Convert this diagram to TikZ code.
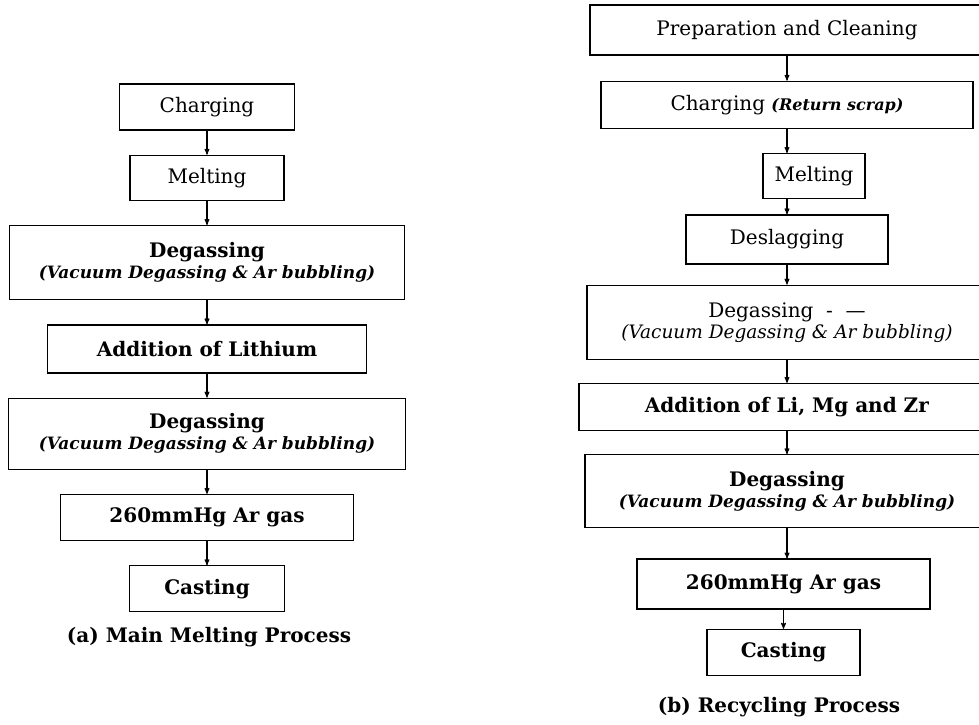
\documentclass[tikz,border=0pt]{standalone}
\usepackage{fontspec}
\setmainfont{DejaVu Serif}
\usetikzlibrary{positioning, arrows}
\tikzset {
    >=stealth',
    node distance=24pt,
    stepbox/.style={draw, line width=1.3pt, inner sep=0pt, minimum height=46pt, align=center, font=\fontsize{20}{23}\selectfont},
    caption/.style={font=\fontsize{20}{24}\selectfont\bfseries},
    flow/.style={->, line width=1.1pt}
}

\begin{document}
\begin{tikzpicture}
    \useasboundingbox (0,0) rectangle (979pt,-724pt);

    % (a) main melting process
    \node[stepbox, minimum width=175pt] (chgA) at (207pt,-107pt) {Charging};
    \node[stepbox, minimum width=154pt, minimum height=45pt, below=of chgA] (mltA) {Melting};
    \node[stepbox, minimum width=395pt, minimum height=74pt, below=of mltA] (degA) {\textbf{Degassing}\\[-2pt]{\fontsize{17}{20}\selectfont\bfseries\itshape (Vacuum Degassing \& Ar bubbling)}};
    \node[stepbox, minimum width=319pt, minimum height=48pt, below=of degA] (addA) {\textbf{Addition of Lithium}};
    \node[stepbox, minimum width=397pt, minimum height=71pt, below=of addA] (degAA) {\textbf{Degassing}\\[-2pt]{\fontsize{17}{20}\selectfont\bfseries\itshape (Vacuum Degassing \& Ar bubbling)}};
    \node[stepbox, minimum width=293pt, below=of degAA] (gasA) {\textbf{260mmHg Ar gas}};
    \node[stepbox, minimum width=155pt, below=of gasA] (castA) {\textbf{Casting}};
    \node[caption] (capA) at (209pt,-637pt) {(a) Main Melting Process};

    % (b) recycling process
    \node[stepbox, minimum width=394pt, minimum height=50pt] (prepB) at (787pt,-30pt) {Preparation and Cleaning};
    \node[stepbox, minimum width=372pt, minimum height=47pt, below=25pt of prepB] (chgB) {Charging {\fontsize{16}{20}\selectfont\bfseries\itshape (Return scrap)}};
    \node[stepbox, minimum width=102pt, minimum height=45pt, below=24pt of chgB, xshift=27pt] (mltB) {Melting};
    \node[stepbox, minimum width=202pt, minimum height=49pt, below=15pt of mltB, xshift=-27pt] (deslB) {Deslagging};
    \node[stepbox, minimum width=400pt, minimum height=74pt, below=20pt of deslB] (degB) {Degassing \ - \ ---\\[-2pt]{\fontsize{18.5}{20}\selectfont\itshape (Vacuum Degassing \& Ar bubbling)}};
    \node[stepbox, minimum width=416pt, minimum height=47pt, below=23pt of degB] (addB) {\textbf{Addition of Li, Mg and Zr}};
    \node[stepbox, minimum width=404pt, minimum height=73pt, below=23pt of addB] (degBB) {\textbf{Degassing}\\[-2pt]{\fontsize{17}{20}\selectfont\bfseries\itshape (Vacuum Degassing \& Ar bubbling)}};
    \node[stepbox, minimum width=293pt, minimum height=50pt, below=30pt of degBB, xshift=-3.5pt] (gasB) {\textbf{260mmHg Ar gas}};
    \node[stepbox, minimum width=153pt, below=19pt of gasB] (castB) {\textbf{Casting}};
    \node[caption] (capB) at (779pt,-707pt) {(b) Recycling Process};

    \draw[flow]
    (chgA) edge (mltA)
    (mltA) edge (degA)
    (degA) edge (addA)
    (addA) edge (degAA)
    (degAA) edge (gasA)
    (gasA) edge (castA)
    (prepB) edge (chgB)
    (deslB) edge (degB)
    (degB) edge (addB)
    (addB) edge (degBB)
    (gasB) edge (castB);
    \draw[flow] (chgB.south) -- (chgB.south |- mltB.north);
    \draw[flow] (deslB.north |- mltB.south) -- (deslB.north);
    \draw[flow] (degBB.south) -- (degBB.south |- gasB.north);
\end{tikzpicture}
\end{document}
